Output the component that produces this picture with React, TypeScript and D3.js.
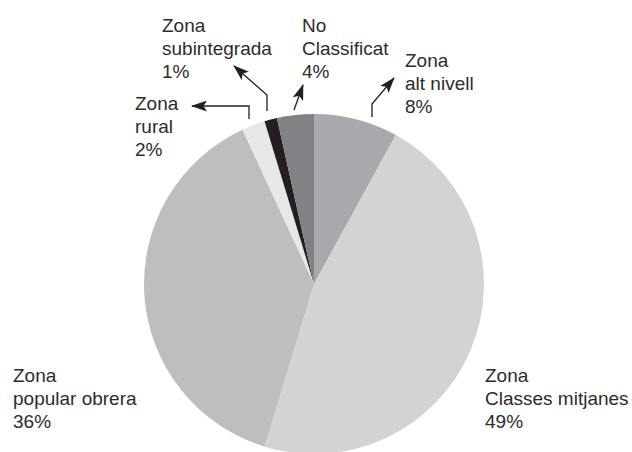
import React from "react";
import * as d3 from "d3";

// Slice shares as drawn in the picture (percent of the circle)
const categories = [
  "Zona alt nivell",
  "Zona Classes mitjanes",
  "Zona popular obrera",
  "Zona rural",
  "Zona subintegrada",
  "No Classificat",
];
const sliceValues = [8, 46.7, 38.4, 2.2, 1.2, 3.5];
// Printed percentage labels
const pctLabels = ["8%", "49%", "36%", "2%", "1%", "4%"];
const labelLines = [
  ["Zona", "alt nivell"],
  ["Zona", "Classes mitjanes"],
  ["Zona", "popular obrera"],
  ["Zona", "rural"],
  ["Zona", "subintegrada"],
  ["No", "Classificat"],
];
const sliceColors = ["#a7a9ac", "#d1d3d4", "#bcbec0", "#e6e7e8", "#231f20", "#808285"];

// Layout (positions of label blocks and leader lines)
const W = 632;
const H = 452;
const CX = 314;
const CY = 284;
const R = 170;
const labelPos: [number, number][] = [
  [405, 67],
  [485, 382],
  [13, 382],
  [135, 110],
  [162, 32],
  [302, 32],
];
const leaders: ([number, number][] | null)[] = [
  [[372, 117], [372, 104], [394, 78]],
  null,
  null,
  [[249, 119], [249, 106], [192, 106]],
  [[267, 111], [267, 95], [234, 66]],
  [[294, 110], [303, 85]],
];

export default function App() {
  const pie = d3
    .pie<number>()
    .sort(null)
    .value((d) => d)
    .startAngle(0)
    .endAngle(2 * Math.PI);
  const arcs = pie(sliceValues);
  const arc = d3.arc<d3.PieArcDatum<number>>().innerRadius(0).outerRadius(R);
  const line = d3.line();
  const textColor = "#231f20";
  const fontSize = 19;
  const lh = 23;

  return (
    <svg
      width={W}
      height={H}
      style={{ position: "absolute", left: 0, top: 0, background: "#fff" }}
      fontFamily="'Liberation Sans', Arial, sans-serif"
    >
      <defs>
        <marker
          id="ah"
          viewBox="0 0 16 11"
          refX="15"
          refY="5.5"
          markerWidth="16"
          markerHeight="11"
          markerUnits="userSpaceOnUse"
          orient="auto"
        >
          <path d="M0,0 L16,5.5 L0,11 L3.5,5.5 Z" fill={textColor} />
        </marker>
      </defs>
      <g transform={`translate(${CX},${CY})`}>
        {arcs.map((a, i) => (
          <path key={categories[i]} d={arc(a) || ""} fill={sliceColors[i]} />
        ))}
      </g>
      {leaders.map((pts, i) =>
        pts ? (
          <path
            key={"l" + i}
            d={line(pts) || ""}
            fill="none"
            stroke={textColor}
            strokeWidth={1.3}
            markerEnd="url(#ah)"
          />
        ) : null
      )}
      {categories.map((c, i) => {
        const [x, y] = labelPos[i];
        const lines = [...labelLines[i], pctLabels[i]];
        return (
          <text key={"t" + c} x={x} y={y} fill="#2e2b2c" fontSize={fontSize}>
            {lines.map((t, j) => (
              <tspan key={j} x={x} y={y + j * lh}>
                {t}
              </tspan>
            ))}
          </text>
        );
      })}
    </svg>
  );
}
